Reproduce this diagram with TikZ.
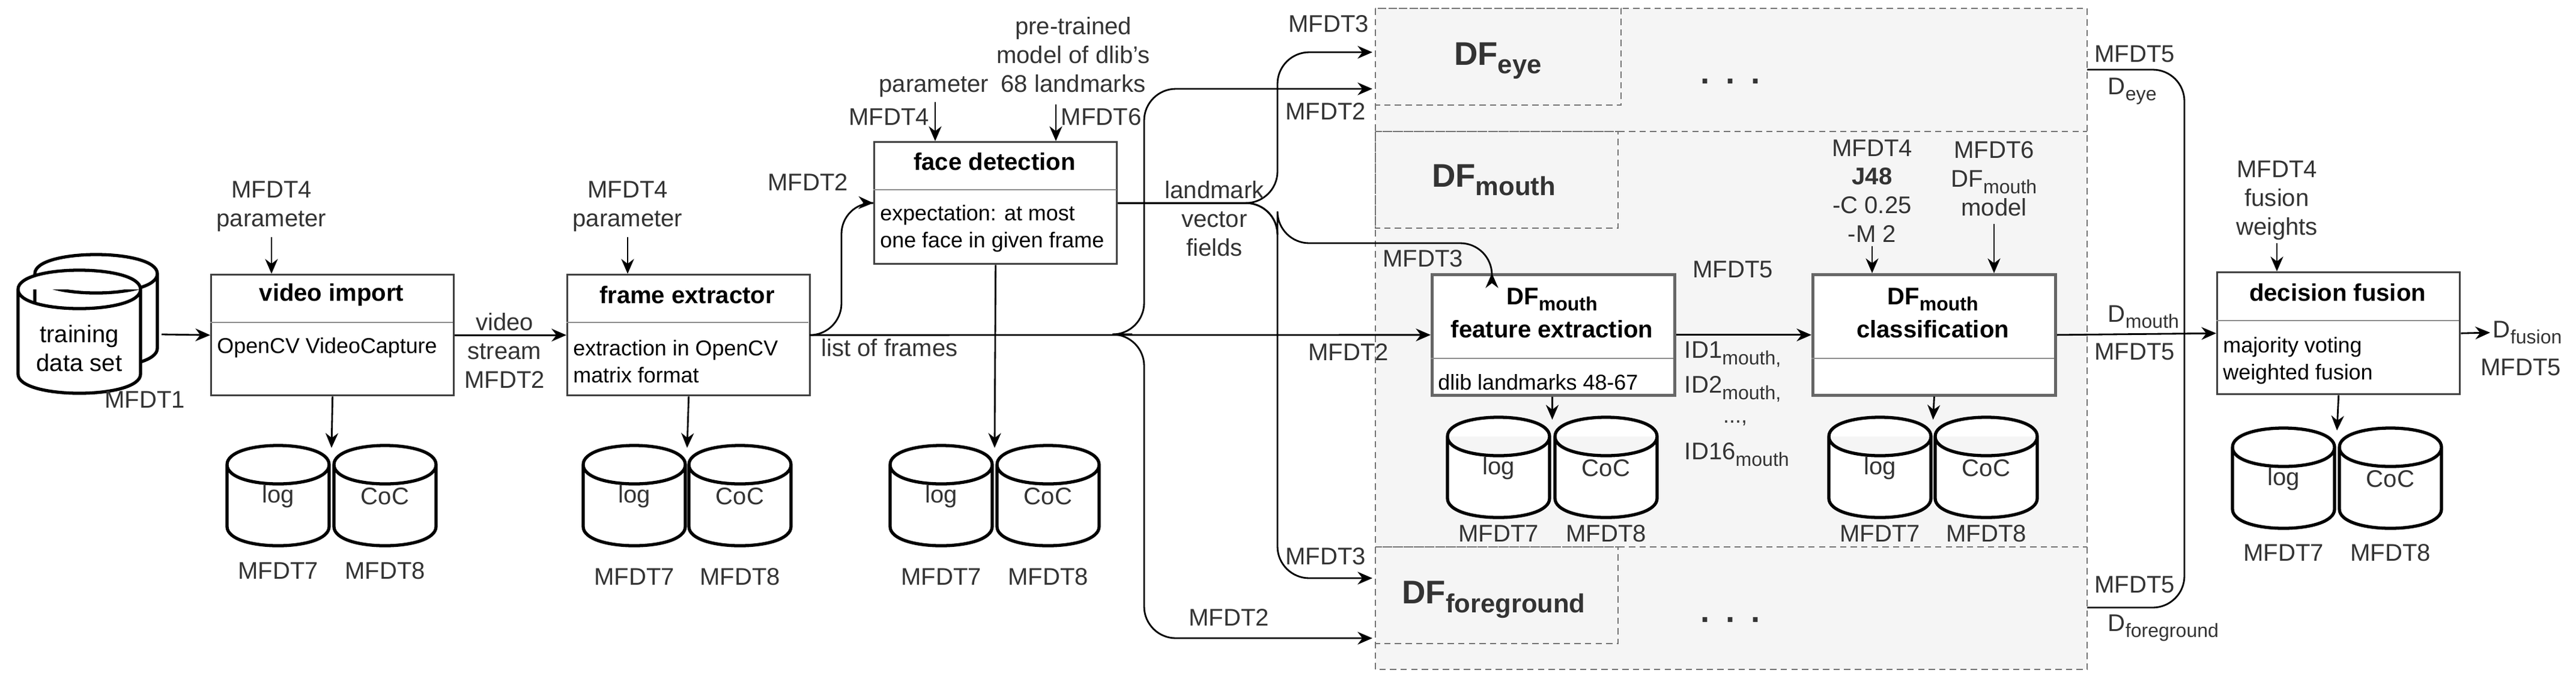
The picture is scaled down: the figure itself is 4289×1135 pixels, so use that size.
\documentclass[tikz,border=0pt]{standalone}
\usepackage{fontspec}
\setmainfont{Liberation Sans}
\usetikzlibrary{arrows.meta,calc}
\definecolor{tx}{HTML}{333333}
\definecolor{bg}{HTML}{F5F5F5}
\newcommand\Lf{\fontsize{11.4}{13.6}\selectfont}
\newcommand\Cf{\fontsize{10.2}{12.8}\selectfont}
\newcommand\Bf{\fontsize{15.5}{18}\selectfont}
\newcommand\sbs[1]{\raisebox{-0.5ex}{\scalebox{0.8}{#1}}}
\newcommand\mycyl[4]{%
 \draw[cyl] (#1-#4,#2+32) .. controls (#1-#4,#2-10.7) and (#1+#4,#2-10.7) .. (#1+#4,#2+32)
   .. controls (#1+#4,#2+74.7) and (#1-#4,#2+74.7) .. (#1-#4,#2+32) -- (#1-#4,#3-32)
   .. controls (#1-#4,#3+10.7) and (#1+#4,#3+10.7) .. (#1+#4,#3-32) -- (#1+#4,#2+32);}
\newcommand\LC[6]{%
 \mycyl{#2}{#4}{#5}{85}\mycyl{#3}{#4}{#5}{85}
 \node[lbl] (cyl#1l) at (#2,#4+85) {log};
 \node[lbl] (cyl#1c) at (#3,#4+85) {CoC};
 \node[lbl] (cyl#1m) at (#2,#6) {MFDT7};
 \node[lbl] (cyl#1n) at (#3,#6) {MFDT8};
 \coordinate (cyl#1t) at ({(#2+#3)/2},#4+4);}
\begin{document}
\begin{tikzpicture}[x=0.01cm,y=-0.01cm, line width=0.8pt,
 arr/.style={-{Stealth[length=7pt,width=6pt]}, line width=0.8pt},
 box/.style={draw=black!75, fill=white, line width=0.9pt, minimum width=4.04cm, minimum height=2.01cm, inner sep=0, anchor=north west},
 gbox/.style={box, draw=black!60, line width=1.3pt},
 lbl/.style={text=tx, font=\Lf, inner sep=1pt, align=center},
 cnt/.style={font=\Cf, anchor=west, align=left, inner sep=0pt},
 ttl/.style={font=\Lf\bfseries, align=center, inner sep=0pt},
 dv/.style={draw=black!45, line width=0.8pt},
 cyl/.style={draw, fill=white, line width=1.5pt},
 dsh/.style={draw=black!55, line width=0.8pt, dash pattern=on 3pt off 2pt}]
\useasboundingbox (0,0) rectangle (4289,1135);
% gray region
\filldraw[dsh, fill=bg] (2290,14) rectangle (3475,1115);
\draw[dsh] (2290,219) -- (3475,219);
\draw[dsh] (2290,911) -- (3475,911);
\draw[dsh] (2290,14) rectangle (2699,175);
\draw[dsh] (2290,219) rectangle (2694,380);
\draw[dsh] (2290,911) rectangle (2694,1072);
\node[font=\Bf\bfseries, text=tx] (dfe) at (2494,101) {DF\sbs{eye}};
\node[font=\Bf\bfseries, text=tx] (dfm) at (2487,300) {DF\sbs{mouth}};
\node[font=\Bf\bfseries, text=tx] (dff) at (2487,999) {DF\sbs{foreground}};
\node[font=\Bf\bfseries, text=tx] (dots1) at (2881,135) {.\,\,\,.\,\,\,.};
\node[font=\Bf\bfseries, text=tx] (dots2) at (2881,1032) {.\,\,\,.\,\,\,.};
% training data set
\mycyl{160}{424}{612}{102}
\mycyl{132}{450}{655}{102}
\node[lbl, text=black] (ds) at (132,580) {training\\data set};
\node[lbl] (m1) at (241,666) {MFDT1};
\coordinate (dsE) at (269,557);
% boxes
\node[box] (vi) at (350,456) {};
\draw[dv] (350,537) -- (754,537);
\node[ttl] (vit) at (552,491) {video import};
\node[cnt] (vic) at (360,579) {OpenCV VideoCapture};
\node[box] (fe) at (943,456) {};
\draw[dv] (943,537) -- (1346,537);
\node[ttl] (fet) at (1144,491) {frame extractor};
\node[cnt] (fec) at (953,602) {extraction in OpenCV\\matrix format};
\node[box, minimum height=2.03cm] (fd) at (1454,235) {};
\draw[dv] (1454,316) -- (1859,316);
\node[ttl] (fdt) at (1656,269) {face detection};
\node[cnt] (fdc) at (1464,381) {expectation: at most\\one face in given frame};
\node[gbox] (fx) at (2382,455) {};
\draw[dv] (2382,597) -- (2786,597);
\node[ttl] (fxt) at (2584,521) {DF\sbs{mouth}\\[2pt]feature extraction};
\node[cnt] (fxc) at (2393,637) {dlib landmarks 48-67};
\node[gbox] (cl) at (3016,455) {};
\draw[dv] (3016,597) -- (3420,597);
\node[ttl] (clt) at (3218,521) {DF\sbs{mouth}\\[2pt]classification};
\node[box, minimum height=2.03cm] (df) at (3690,452) {};
\draw[dv] (3690,534) -- (4094,534);
\node[ttl] (dft) at (3892,487) {decision fusion};
\node[cnt] (dfc) at (3700,601) {majority voting\\weighted fusion};
% log / CoC
\LC{A}{463}{641}{742}{909}{951}
\LC{B}{1056}{1232}{742}{909}{961}
\LC{C}{1567}{1745}{742}{909}{961}
\LC{D}{2495}{2674}{695}{862}{889}
\LC{E}{3130}{3307}{695}{862}{889}
\LC{F}{3802}{3980}{713}{880}{921}
\draw[arr] (vi.south) -- (cylAt);
\draw[arr] (fe.south) -- (cylBt);
\draw[arr] (fd.south) -- (cylCt);
\draw[arr] (cylDt |- fx.south) -- (cylDt);
\draw[arr] (cl.south) -- (cylEt);
\draw[arr] (df.south) -- (cylFt);
% top inputs
\node[lbl] (vip) at (452,344) {MFDT4\\parameter};
\draw[arr] (452,395) -- (452,456);
\node[lbl] (fep) at (1045,344) {MFDT4\\parameter};
\draw[arr] (1045,395) -- (1045,456);
\node[lbl] (fdp) at (1555,145) {parameter};
\node[lbl, anchor=east] (fd4) at (1552,195) {MFDT4};
\draw[arr] (1557,170) -- (1557,235);
\node[lbl] (fdm) at (1787,91) {pre-trained\\model of dlib's\\68 landmarks};
\node[lbl, anchor=west] (fd6) at (1762,195) {MFDT6};
\draw[arr] (1758,174) -- (1758,235);
\node[lbl] (clp) at (3117,318) {MFDT4\\\textbf{J48}\\-C 0.25\\-M 2};
\draw[arr] (3117,410) -- (3117,455);
\node[lbl] (clq) at (3320,298) {MFDT6\\DF\sbs{mouth}\\model};
\draw[arr] (3320,373) -- (3320,455);
\node[lbl] (dfp) at (3791,334) {MFDT4\\fusion\\weights};
\draw[arr] (3791,405) -- (3791,452);
% main flow
\draw[arr] (dsE) -- (vi.west);
\draw[arr] (vi.east) -- (fe.west);
\node[lbl] (vs) at (840,584) {video\\stream\\MFDT2};
\draw[arr] (fe.east) -- (fx.west);
\node[lbl] (lof) at (1481,579) {list of frames};
\node[lbl] (fx2) at (2245,586) {MFDT2};
\draw[arr, rounded corners=15] (fe.east) -| (1401,337) -- (fd.west);
\node[lbl] (fd2) at (1345,303) {MFDT2};
% landmark fan-out
\coordinate (e1) at (2285,87);
\coordinate (e2) at (2285,148);
\coordinate (g1) at (2285,963);
\coordinate (g2) at (2285,1063);
\coordinate (fxin) at (2484,455);
\draw[arr, rounded corners=15] (fd.east) -| (2127,87) -- (e1);
\draw[arr, rounded corners=15] (fd.east) -| (2127,405) -| (fxin);
\draw[arr, rounded corners=15] (fd.east) -| (2127,963) -- (g1);
\node[lbl] (lvf) at (2022,364) {landmark\\vector\\fields};
\node[lbl] (l31) at (2212,40) {MFDT3};
\node[lbl] (l32) at (2369,431) {MFDT3};
\node[lbl] (l33) at (2207,927) {MFDT3};
% frame fan-out
\coordinate (br) at (1885,557);
\draw[arr, rounded corners=15] (br) -| (1905,148) -- (e2);
\draw[arr, rounded corners=15] (br) -| (1905,1063) -- (g2);
\node[lbl] (l21) at (2207,185) {MFDT2};
\node[lbl] (l22) at (2046,1028) {MFDT2};
% features
\draw[arr] (fx.east) -- (cl.west);
\node[lbl] (m5) at (2885,449) {MFDT5};
\node[lbl, anchor=west] (id1) at (2800,590) {ID1\sbs{mouth,}};
\node[lbl, anchor=west] (id2) at (2800,648) {ID2\sbs{mouth,}};
\node[lbl, font=\Cf] (idd) at (2889,705) {...,};
\node[lbl, anchor=west] (id3) at (2800,757) {ID16\sbs{mouth}};
% decisions
\draw[arr] (cl.east) -- (df.west);
\coordinate (j) at (3637,554);
\draw[rounded corners=15] (3475,116) -| (j);
\draw[rounded corners=15] (3475,1012) -| (j);
\node[lbl] (r1) at (3554,90) {MFDT5};
\node[lbl, anchor=west] (r2) at (3505,152) {D\sbs{eye}};
\node[lbl, anchor=west] (r3) at (3505,528) {D\sbs{mouth}};
\node[lbl] (r4) at (3554,586) {MFDT5};
\node[lbl] (r5) at (3554,974) {MFDT5};
\node[lbl, anchor=west] (r6) at (3505,1046) {D\sbs{foreground}};
\coordinate (out) at (4146,554);
\draw[arr] (df.east) -- (out);
\node[lbl, anchor=west] (o1) at (4146,554) {D\sbs{fusion}};
\node[lbl] (o2) at (4197,612) {MFDT5};
\end{tikzpicture}
\end{document}
